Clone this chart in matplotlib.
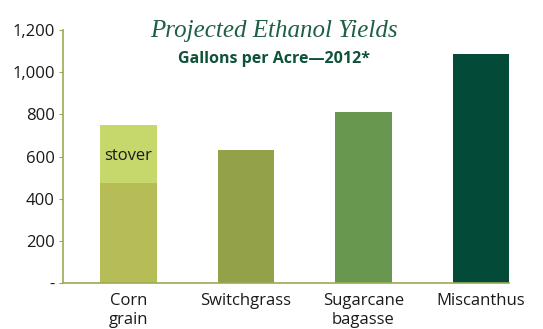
import matplotlib.pyplot as plt
from matplotlib.ticker import FuncFormatter

# ----------------------------------------------------------------------------
# Data
# ----------------------------------------------------------------------------
categories = ["Corn\ngrain", "Switchgrass", "Sugarcane\nbagasse", "Miscanthus"]
base_values = [475, 630, 810, 1085]
stover_values = [275, 0, 0, 0]
bar_colors = ["#B6BD56", "#93A148", "#68974F", "#034A39"]
stover_color = "#C6D86B"
y_ticks = [0, 200, 400, 600, 800, 1000, 1200]

AXIS_COLOR = "#9BAA55"
TITLE_COLOR = "#1F5F43"
SUB_COLOR = "#0E5338"
TEXT = "#1A1A1A"

fig = plt.figure(figsize=(5.43, 3.29), dpi=100)
ax = fig.add_axes([0.116, 0.1398, 0.8214, 0.769])

x = list(range(len(categories)))
ax.bar(x, base_values, width=0.48, color=bar_colors, linewidth=0)
ax.bar(x[:1], stover_values[:1], bottom=base_values[:1], width=0.48,
       color=stover_color, linewidth=0)
ax.text(0, base_values[0] + stover_values[0] / 2 - 10, "stover",
        ha="center", va="center", fontsize=12, family="Open Sans", color=TEXT)

ax.set_xlim(-0.556, 3.24)
ax.set_ylim(0, 1200)
ax.set_yticks(y_ticks)
ax.yaxis.set_major_formatter(FuncFormatter(lambda v, _: "-" if v == 0 else f"{int(v):,}"))
ax.set_xticks(x)
ax.set_xticklabels(categories, family="Open Sans", fontsize=12, linespacing=1.25)
for lbl in ax.get_yticklabels():
    lbl.set_family("Open Sans")
    lbl.set_fontsize(12)

for side in ["top", "right"]:
    ax.spines[side].set_visible(False)
for side in ["left", "bottom"]:
    ax.spines[side].set_color(AXIS_COLOR)
    ax.spines[side].set_linewidth(1.2)
ax.tick_params(axis="y", length=3, color=AXIS_COLOR, pad=3, labelcolor=TEXT)
ax.tick_params(axis="x", length=0, pad=7, labelcolor=TEXT)

fig.text(0.504, 0.907, "Projected Ethanol Yields", ha="center", va="center",
         family="Liberation Serif", style="italic", fontsize=18, color=TITLE_COLOR)
fig.text(0.504, 0.822, "Gallons per Acre\u20142012*", ha="center", va="center",
         family="Open Sans", weight="bold", fontsize=11.5, color=SUB_COLOR)

fig.savefig("out.png", dpi=100)
